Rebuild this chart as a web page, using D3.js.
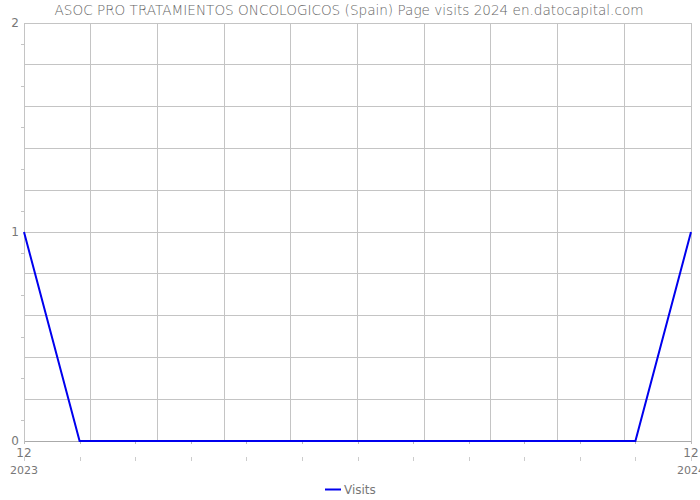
<!DOCTYPE html>
<html><head><meta charset="utf-8">
<script src="https://cdn.jsdelivr.net/npm/d3@7"></script>
<style>body{margin:0;background:#fff}svg{display:block}text{font-family:"DejaVu Sans",sans-serif}</style>
</head><body><svg id="c" width="700" height="500"></svg>
<script>
const title = "ASOC PRO TRATAMIENTOS ONCOLOGICOS (Spain) Page visits 2024 en.datocapital.com";
const months = ["2023-12","2024-01","2024-02","2024-03","2024-04","2024-05","2024-06","2024-07","2024-08","2024-09","2024-10","2024-11","2024-12"];
const visits = [1,0,0,0,0,0,0,0,0,0,0,0,1];
const yTicks = [0,1,2];
const xEndLabels = ["12","12"];
const yearLabels = ["2023","2024"];
const seriesName = "Visits";

const svg = d3.select("#c");
const L=24, R=691, T=23, B=441;
const x = d3.scaleLinear().domain([0, months.length-1]).range([L,R]);
const y = d3.scaleLinear().domain([0,2]).range([B,T]);
const gx = d3.scaleLinear().domain([0,10]).range([L,R]);
const grid = "#c4c4c4", txt = "#777";

const hg = d3.range(0,2.0001,0.2);
svg.append("g").selectAll("line").data(hg).join("line")
  .attr("x1",L).attr("x2",R).attr("y1",d=>y(d)).attr("y2",d=>y(d))
  .attr("stroke",grid).attr("stroke-width",1).attr("shape-rendering","crispEdges");
svg.append("g").selectAll("line").data(d3.range(0.1,2,0.2)).join("line")
  .attr("x1",L-3).attr("x2",L).attr("y1",d=>Math.round(y(d))+0.5).attr("y2",d=>Math.round(y(d))+0.5)
  .attr("stroke",grid);
svg.append("g").selectAll("line").data(d3.range(0,11)).join("line")
  .attr("x1",d=>gx(d)).attr("x2",d=>gx(d)).attr("y1",T).attr("y2",B)
  .attr("stroke",grid).attr("shape-rendering","crispEdges");
svg.append("line").attr("x1",L).attr("x2",R).attr("y1",B).attr("y2",B).attr("stroke","#aaa").attr("shape-rendering","crispEdges");
const xi = d3.range(0,months.length);
svg.append("g").selectAll("line").data(xi).join("line")
  .attr("x1",d=>Math.round(x(d))+0.5).attr("x2",d=>Math.round(x(d))+0.5).attr("y1",B).attr("y2",B+3)
  .attr("stroke","#bbb");
svg.append("g").selectAll("line").data(xi).join("line")
  .attr("x1",d=>Math.round(x(d))+0.5).attr("x2",d=>Math.round(x(d))+0.5).attr("y1",B+16).attr("y2",B+20)
  .attr("stroke","#ccc");
svg.append("g").selectAll("text").data(yTicks).join("text")
  .attr("x",L-5).attr("y",d=>y(d)+4).attr("text-anchor","end")
  .attr("font-size",12).attr("fill",txt).text(d=>d);
svg.append("text").attr("x",x(0)).attr("y",B+16).attr("text-anchor","middle").attr("font-size",12).attr("fill",txt).text(xEndLabels[0]);
svg.append("text").attr("x",x(months.length-1)).attr("y",B+16).attr("text-anchor","middle").attr("font-size",12).attr("fill",txt).text(xEndLabels[1]);
svg.append("text").attr("x",x(0)).attr("y",B+33).attr("text-anchor","middle").attr("font-size",11).attr("fill",txt).text(yearLabels[0]);
svg.append("text").attr("x",x(months.length-1)).attr("y",B+33).attr("text-anchor","middle").attr("font-size",11).attr("fill",txt).text(yearLabels[1]);
svg.append("path").datum(visits)
  .attr("d", d3.line().x((d,i)=>x(i)).y(d=>y(d)))
  .attr("fill","none").attr("stroke","#0000ee").attr("stroke-width",2);
svg.append("text").attr("x",349).attr("y",15).attr("text-anchor","middle").attr("font-size",13.6).attr("font-weight",200).attr("fill","#666").text(title);
svg.append("line").attr("x1",325).attr("x2",341).attr("y1",489.5).attr("y2",489.5).attr("stroke","#0000ee").attr("stroke-width",2);
svg.append("text").attr("x",344).attr("y",494).attr("font-size",12).attr("fill",txt).text(seriesName);
</script></body></html>
